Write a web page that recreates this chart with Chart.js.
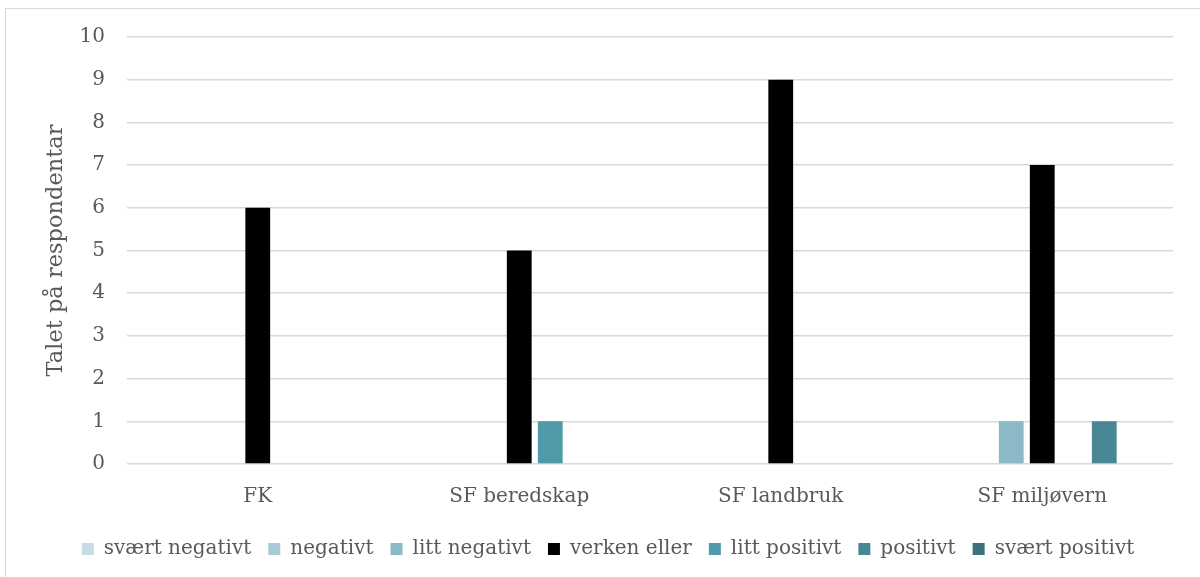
<!DOCTYPE html>
<html>
<head>
<meta charset="utf-8">
<script src="https://cdn.jsdelivr.net/npm/chart.js@4.4.1/dist/chart.umd.min.js"></script>
<style>
  html, body { margin: 0; padding: 0; background: #fff; overflow: hidden; width: 1200px; height: 577px; }
  #frame {
    position: absolute; left: 5px; top: 8px; width: 1210px; height: 590px;
    border: 1.5px solid #d9d9d9; box-sizing: border-box;
  }
  #wrap { position: absolute; left: 0; top: 0; width: 1216px; height: 577px; }
</style>
</head>
<body>
<div id="frame"></div>
<div id="wrap"><canvas id="chart"></canvas></div>
<script>
// Categories and series
const categories = ['FK', 'SF beredskap', 'SF landbruk', 'SF miljøvern'];
const seriesNames = ['svært negativt', 'negativt', 'litt negativt', 'verken eller', 'litt positivt', 'positivt', 'svært positivt'];
const seriesColors = ['#c6dbe2', '#a9cad5', '#8cb9c6', '#000000', '#5099a8', '#4a8795', '#3e717e'];

const sværtNegativt = [0, 0, 0, 0];
const negativt = [0, 0, 0, 0];
const littNegativt = [0, 0, 0, 1];
const verkenEller = [6, 5, 9, 7];
const littPositivt = [0, 1, 0, 0];
const positivt = [0, 0, 0, 1];
const sværtPositivt = [0, 0, 0, 0];

const yTicks = [0, 1, 2, 3, 4, 5, 6, 7, 8, 9, 10];

const seriesValues = [sværtNegativt, negativt, littNegativt, verkenEller, littPositivt, positivt, sværtPositivt];

const fontFamily = '"DejaVu Serif", serif';
const textColor = '#595959';

const datasets = seriesNames.map((name, i) => ({
  label: name,
  data: seriesValues[i],
  backgroundColor: seriesColors[i],
  borderWidth: 0,
  categoryPercentage: 0.83,
  barPercentage: 0.8
}));

new Chart(document.getElementById('chart'), {
  type: 'bar',
  data: { labels: categories, datasets: datasets },
  options: {
    responsive: true,
    maintainAspectRatio: false,
    animation: false,
    layout: { padding: { top: 37, right: 0, left: 0, bottom: 8 } },
    plugins: {
      tooltip: { enabled: false },
      legend: {
        position: 'bottom',
        labels: {
          color: textColor,
          font: { family: fontFamily, size: 20 },
          boxWidth: 12,
          boxHeight: 12,
          padding: 17
        }
      }
    },
    scales: {
      x: {
        grid: { display: false },
        border: { display: false },
        ticks: { color: textColor, font: { family: fontFamily, size: 20 }, padding: 13 }
      },
      y: {
        min: 0,
        max: 10,
        afterFit: (scale) => { scale.width = 127; },
        afterBuildTicks: (scale) => { scale.ticks = yTicks.map(v => ({ value: v })); },
        grid: { color: '#d9d9d9', lineWidth: 1.5, drawTicks: false },
        border: { display: false },
        ticks: { color: textColor, font: { family: fontFamily, size: 20 }, padding: 22 },
        title: {
          display: true,
          text: 'Talet på respondentar',
          color: textColor,
          font: { family: fontFamily, size: 22.5 },
          padding: { top: 43 }
        }
      },
      // empty right-hand axis, only keeps the plot edge at the same place
      yRight: {
        position: 'right',
        display: true,
        afterFit: (scale) => { scale.width = 43; },
        grid: { display: false },
        border: { display: false },
        ticks: { display: false }
      }
    }
  }
});
</script>
</body>
</html>
